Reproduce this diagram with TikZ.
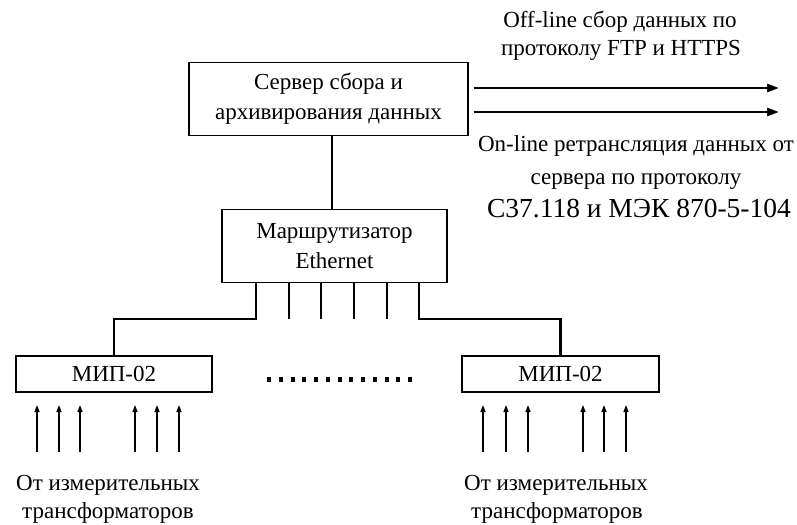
\documentclass[tikz,border=0pt]{standalone}
\usepackage{fontspec}
\setmainfont{Liberation Serif}
\usetikzlibrary{arrows.meta}
\begin{document}
\begin{tikzpicture}[x=1bp,y=-1bp,
  box/.style={draw,line width=1.3bp,inner sep=0pt,align=center,font=\fontsize{23bp}{30bp}\selectfont},
  txt/.style={anchor=base,inner sep=0pt,font=\fontsize{23bp}{28bp}\selectfont},
  bigtxt/.style={anchor=base,inner sep=0pt,font=\fontsize{27.5bp}{30bp}\selectfont},
  wire/.style={line width=2.6bp},
  outarrow/.style={line width=2.6bp,-{Triangle[length=12bp,width=8bp]}},
  inarrow/.style={line width=1.3bp,-{Triangle[length=7bp,width=5bp]}},
  dots/.style={line width=5bp,dash pattern=on 4bp off 7.75bp}]
\useasboundingbox (0,0) rectangle (797,525);
\fill[white] (0,0) rectangle (797,525);

% boxes
\node[box,minimum width=279bp,minimum height=73bp] (srv) at (328.5,99) {Сервер сбора и\\архивирования данных};
\node[box,minimum width=225bp,minimum height=73bp] (rt) at (334.5,246) {Маршрутизатор\\Ethernet};
\node[box,minimum width=196bp,minimum height=36bp] (m1) at (114,374) {МИП-02};
\node[box,minimum width=197bp,minimum height=36bp] (m2) at (560.5,374) {МИП-02};

% server to router
\coordinate (sr) at (332,0);
\draw[wire] (srv.south -| sr) -- (rt.north -| sr);

% ports
\coordinate (bus) at (0,319);
\foreach \px in {289,321,354,387} {
  \draw[wire] (rt.south -| {\px,0}) -- ({\px,0} |- bus);
}
\draw[wire] (rt.south -| {256,0}) -- ({256,0} |- bus) -| (m1.north);
\draw[wire] (rt.south -| {419,0}) -- ({419,0} |- bus) -| (m2.north);

% dotted line
\coordinate (d1) at (267,379);
\coordinate (d2) at (412,379);
\draw[dots] (d1) -- (d2);

% outgoing arrows
\coordinate (oa) at (779,88);
\coordinate (ob) at (779,112);
\draw[outarrow] ([xshift=5bp]srv.east |- oa) -- (oa);
\draw[outarrow] ([xshift=5bp]srv.east |- ob) -- (ob);

% input arrows
\foreach \ax in {37,59,80,135,157,179,483,506,528,583,604,626} {
  \coordinate (ia) at (\ax,452);
  \draw[inarrow] (ia) -- ++(0,-47);
}

% texts
\node[txt] (t1) at (620,28) {Off-line сбор данных по};
\node[txt] (t2) at (621,56) {протоколу FTP и HTTPS};
\node[txt] (t3) at (636,152) {On-line ретрансляция данных от};
\node[txt] (t4) at (636,185) {сервера по протоколу};
\node[bigtxt] (t5) at (639,218) {С37.118 и МЭК 870-5-104};
\node[txt] (t6) at (108,490) {От измерительных};
\node[txt] (t7) at (108,518) {трансформаторов};
\node[txt] (t8) at (556,490) {От измерительных};
\node[txt] (t9) at (557,518) {трансформаторов};
\end{tikzpicture}
\end{document}
